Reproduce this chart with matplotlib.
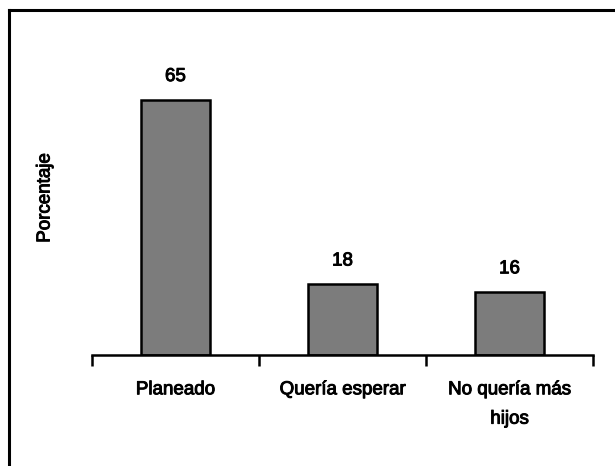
import matplotlib
matplotlib.use("Agg")
import matplotlib.pyplot as plt
from matplotlib.lines import Line2D
import matplotlib.patheffects as pe

categories = ["Planeado", "Quería esperar", "No quería más\nhijos"]
values = [65, 18, 16]
ylabel = "Porcentaje"

plt.rcParams['font.family'] = ['Liberation Sans', 'DejaVu Sans']
fx = [pe.withStroke(linewidth=0.7, foreground='black')]

W, H = 615, 466
fig = plt.figure(figsize=(W/100, H/100), dpi=100)
left, right, bottom, top = 92, 593, 355, 60
ax = fig.add_axes([left/W, 1-bottom/H, (right-left)/W, (bottom-top)/H])

x = range(len(values))
ax.bar(x, values, width=0.41, color='#7c7c7c', edgecolor='black', linewidth=1.8, zorder=2)
ax.set_xlim(-0.5, len(values)-0.5)
ax.set_ylim(0, (bottom-top)/((bottom-100)/65))

for xi, v in zip(x, values):
    ax.text(xi, v + 3.8, f"{v}", ha='center', va='bottom', fontsize=13.5, path_effects=fx)

for s in ['top', 'right', 'left']:
    ax.spines[s].set_visible(False)
ax.spines['bottom'].set_linewidth(1.8)
ax.set_yticks([])
ax.set_xticks([i-0.5 for i in range(len(values)+1)])
ax.set_xticklabels([])
ax.tick_params(axis='x', length=8, width=1.8, direction='out')
for xi, c in zip(x, categories):
    ax.text(xi, -6.7, c, ha='center', va='top', fontsize=13.5, linespacing=1.95,
            path_effects=fx)

fig.text(45/W, 1-198/H, ylabel, rotation=90, ha='center', va='center', fontsize=13.5, path_effects=fx)

fig.add_artist(Line2D([9/W, 9/W], [0, 1-10/H], color='black', linewidth=2.2, transform=fig.transFigure))
fig.add_artist(Line2D([9/W, 1], [1-10/H, 1-10/H], color='black', linewidth=2.2, transform=fig.transFigure))

fig.savefig("out.png", dpi=100)
